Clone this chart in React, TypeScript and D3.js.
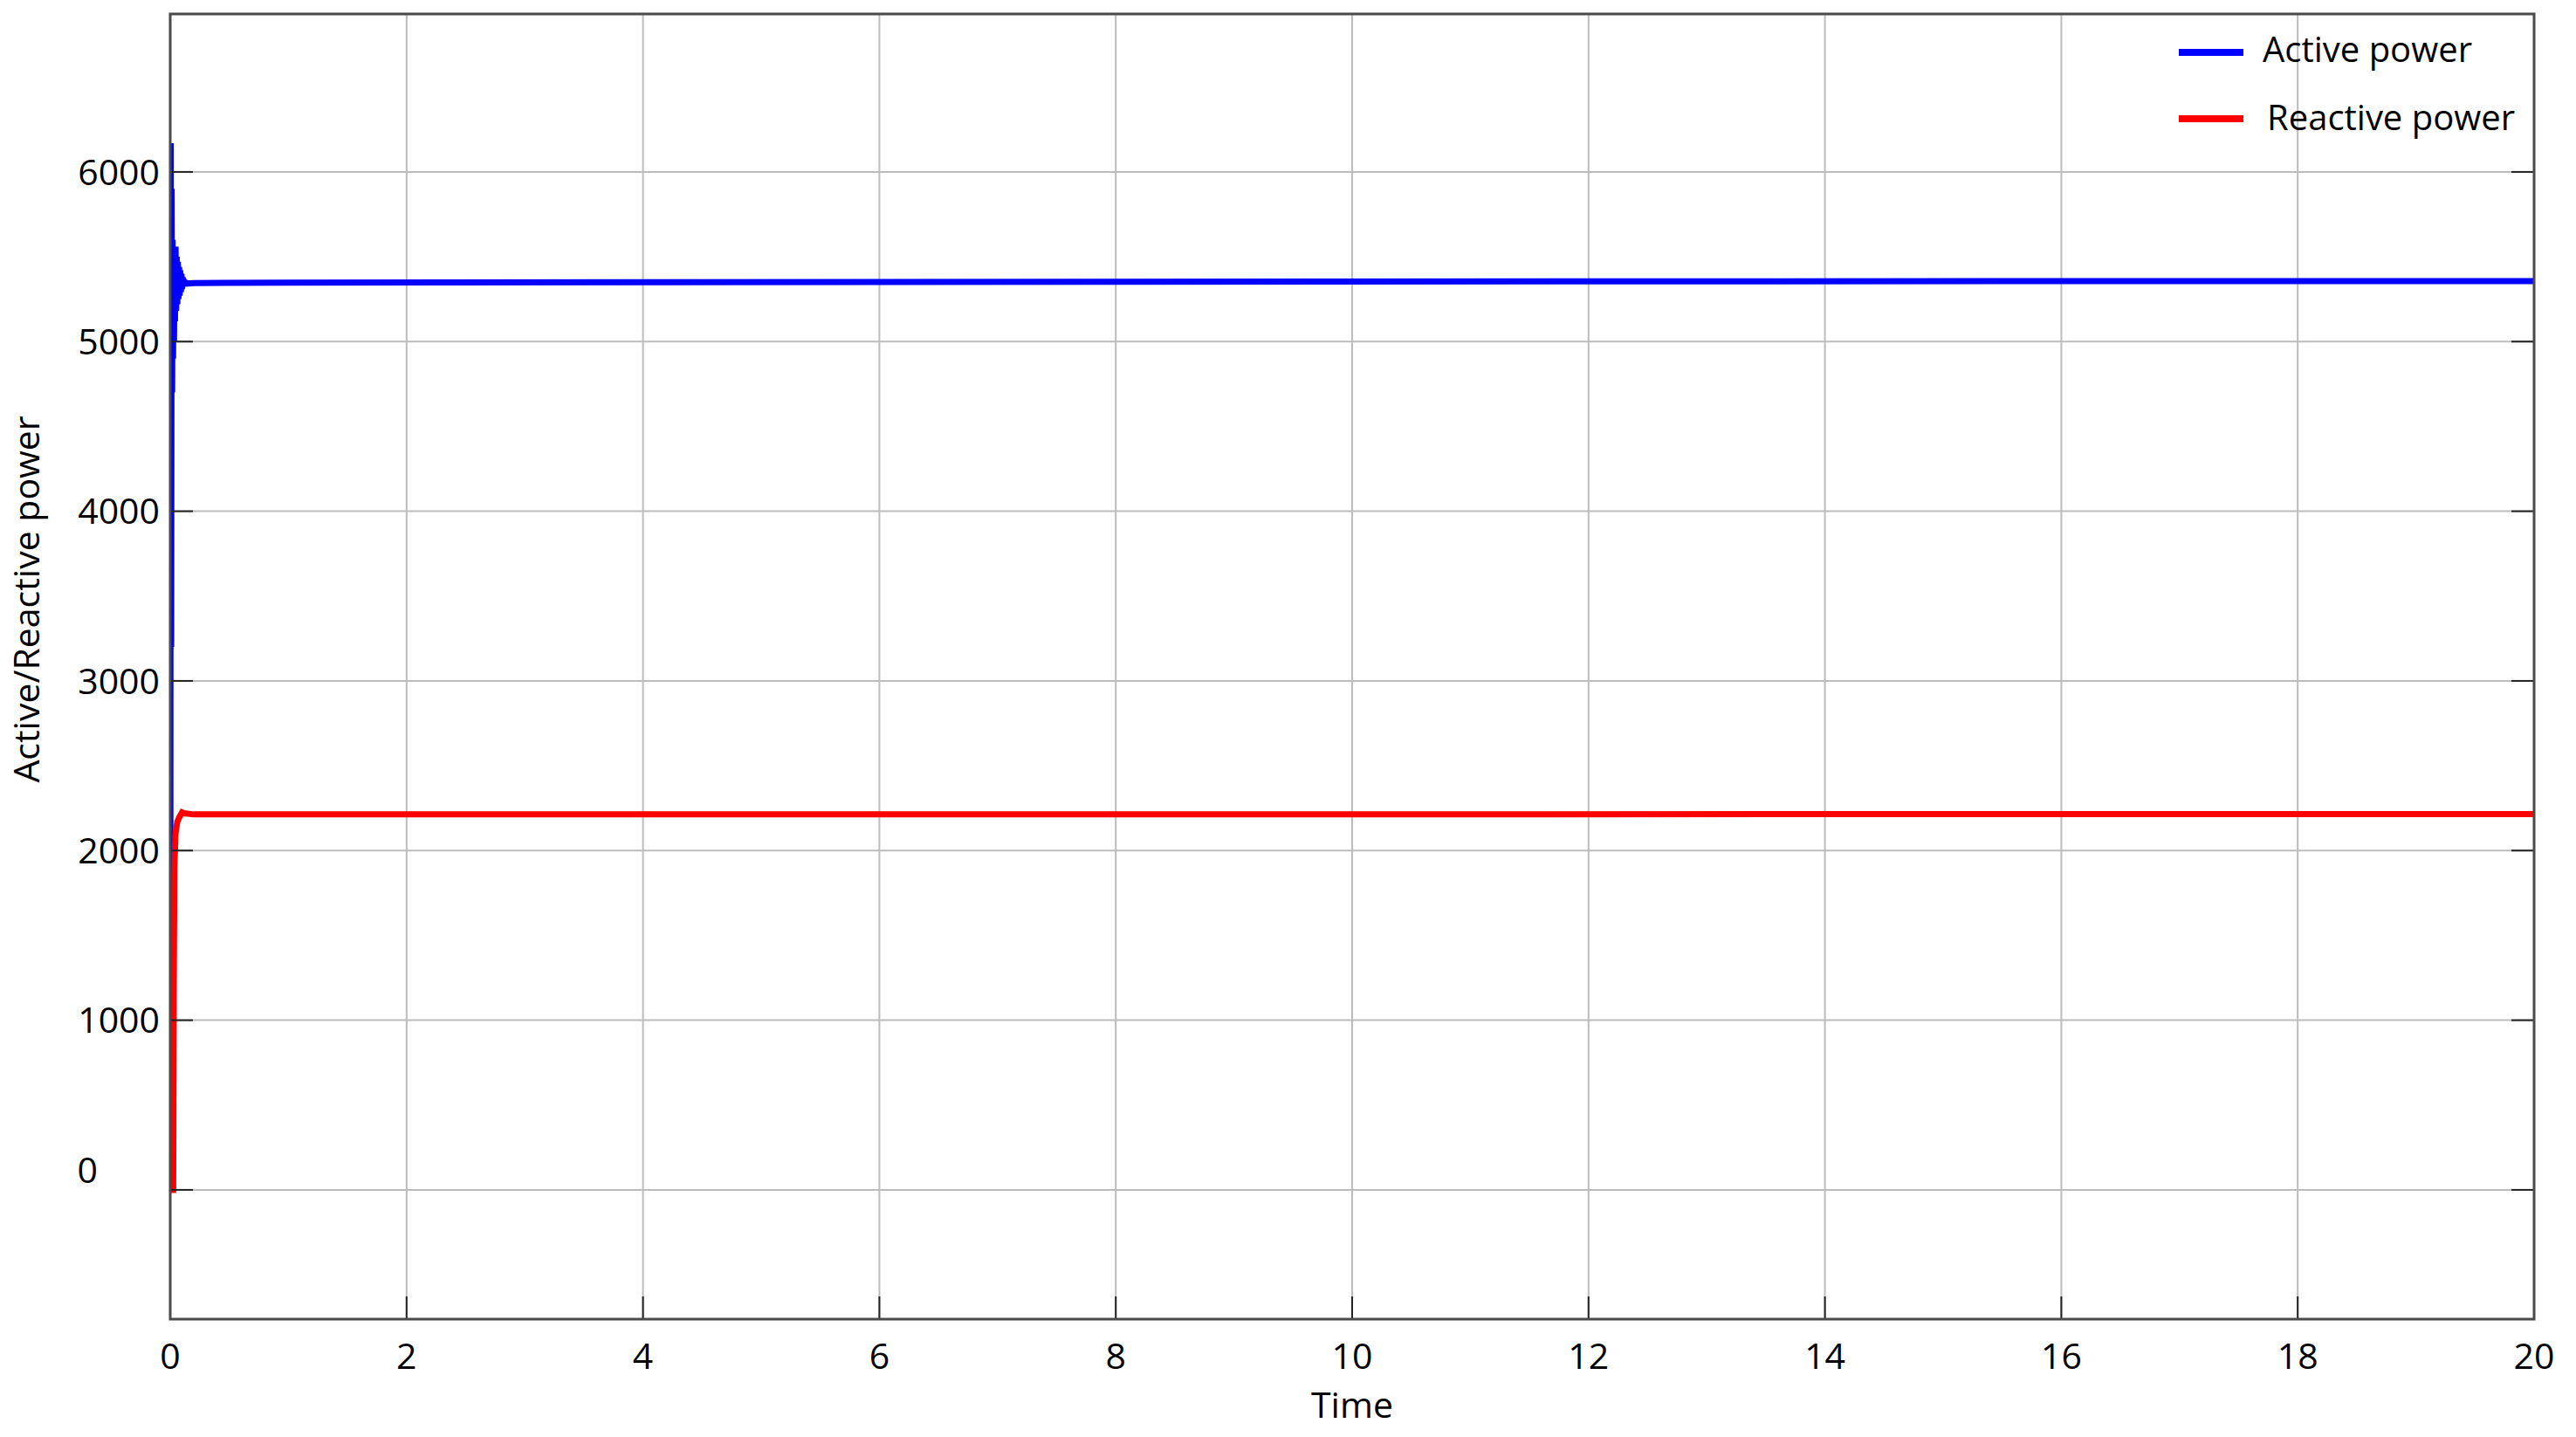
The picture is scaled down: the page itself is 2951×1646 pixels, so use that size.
import React, { useMemo } from "react";
import * as d3 from "d3";

// time (s) and values
const activeTime = [
  0, 0.004, 0.008, 0.012, 0.016, 0.02, 0.024, 0.028, 0.032, 0.036, 0.04, 0.045,
  0.05, 0.055, 0.06, 0.065, 0.07, 0.075, 0.08, 0.085, 0.09, 0.095, 0.1, 0.105,
  0.11, 0.12, 0.14, 0.2, 1, 4, 8, 12, 16, 20,
];
const activePower = [
  0, 6170, 3200, 5900, 4700, 5600, 4900, 5550, 5000, 5520, 5120, 5560, 5180,
  5500, 5220, 5470, 5250, 5440, 5270, 5420, 5290, 5400, 5310, 5380, 5330, 5355,
  5342, 5345, 5347, 5350, 5352, 5355, 5356, 5357,
];
const reactiveTime = [0, 0.025, 0.03, 0.035, 0.045, 0.06, 0.08, 0.1, 0.115, 0.2, 4, 10, 20];
const reactivePower = [0, 0, 1200, 1900, 2100, 2170, 2200, 2225, 2220, 2213, 2213, 2214, 2215];

const xTicks = [0, 2, 4, 6, 8, 10, 12, 14, 16, 18, 20];
const yTicks = [0, 1000, 2000, 3000, 4000, 5000, 6000];
const seriesNames = ["Active power", "Reactive power"];
const seriesColors = ["#0000ff", "#ff0000"];

const W = 2951;
const H = 1646;
const FONT = "'Open Sans', sans-serif";

export default function App() {
  const margin = { left: 195, right: 48, top: 16, bottom: 135 };
  const x = useMemo(
    () => d3.scaleLinear().domain([0, 20]).range([margin.left, W - margin.right]),
    []
  );
  const y = useMemo(
    () => d3.scaleLinear().domain([-762, 6931]).range([H - margin.bottom, margin.top]),
    []
  );
  const line = d3
    .line<[number, number]>()
    .x((d) => x(d[0]))
    .y((d) => y(d[1]));

  const series = [
    activeTime.map((t, i) => [t, activePower[i]] as [number, number]),
    reactiveTime.map((t, i) => [t, reactivePower[i]] as [number, number]),
  ];

  const [x0, x1] = x.range();
  const [yb, yt] = y.range();
  const tickLen = 26;

  return (
    <svg
      width={W}
      height={H}
      style={{ position: "absolute", left: 0, top: 0, background: "#fff" }}
      fontFamily={FONT}
    >
      <defs>
        <clipPath id="plot">
          <rect x={x0} y={yt} width={x1 - x0} height={yb - yt} />
        </clipPath>
      </defs>
      <rect x={0} y={0} width={W} height={H} fill="#fff" />

      {/* grid */}
      <g stroke="#bcbcbc" strokeWidth={2}>
        {xTicks.map((t) => (
          <line key={"gx" + t} x1={x(t)} x2={x(t)} y1={yt} y2={yb} />
        ))}
        {yTicks.map((t) => (
          <line key={"gy" + t} x1={x0} x2={x1} y1={y(t)} y2={y(t)} />
        ))}
      </g>

      {/* lines */}
      <g clipPath="url(#plot)" fill="none" strokeWidth={7} strokeLinejoin="miter">
        {series.map((s, i) => (
          <path key={i} d={line(s) || ""} stroke={seriesColors[i]} />
        ))}
      </g>

      {/* ticks */}
      <g stroke="#222" strokeWidth={2}>
        {xTicks.map((t) => (
          <line key={"tx" + t} x1={x(t)} x2={x(t)} y1={yb} y2={yb - tickLen} />
        ))}
        {yTicks.map((t) => (
          <g key={"ty" + t}>
            <line x1={x0} x2={x0 + tickLen} y1={y(t)} y2={y(t)} />
            <line x1={x1} x2={x1 - tickLen} y1={y(t)} y2={y(t)} />
          </g>
        ))}
      </g>

      {/* box */}
      <rect
        x={x0}
        y={yt}
        width={x1 - x0}
        height={yb - yt}
        fill="none"
        stroke="#4a4a4a"
        strokeWidth={3}
      />

      {/* tick labels */}
      <g fontSize={41} fill="#000">
        {xTicks.map((t) => (
          <text key={"lx" + t} x={x(t)} y={yb + 57} textAnchor="middle">
            {t}
          </text>
        ))}
        {yTicks.map((t) => (
          <text
            key={"ly" + t}
            x={t === 0 ? 112 : 183}
            y={y(t) + (t === 0 ? -23 : 0)}
            dy="0.36em"
            textAnchor="end"
          >
            {t}
          </text>
        ))}
      </g>

      {/* axis titles */}
      <text x={(x0 + x1) / 2} y={1624} fontSize={41} textAnchor="middle" fill="#000">
        Time
      </text>
      <text
        transform={`translate(45, ${(yt + yb) / 2 - 77}) rotate(-90)`}
        fontSize={41}
        textAnchor="middle"
        fill="#000"
      >
        Active/Reactive power
      </text>

      {/* legend */}
      <g fontSize={40} fill="#000">
        {seriesNames.map((name, i) => (
          <g key={name}>
            <line
              x1={2496}
              x2={2570}
              y1={60 + i * 76}
              y2={60 + i * 76}
              stroke={seriesColors[i]}
              strokeWidth={8}
            />
            <text x={2592 + i * 5} y={57 + i * 78} dy="0.36em">
              {name}
            </text>
          </g>
        ))}
      </g>
    </svg>
  );
}
